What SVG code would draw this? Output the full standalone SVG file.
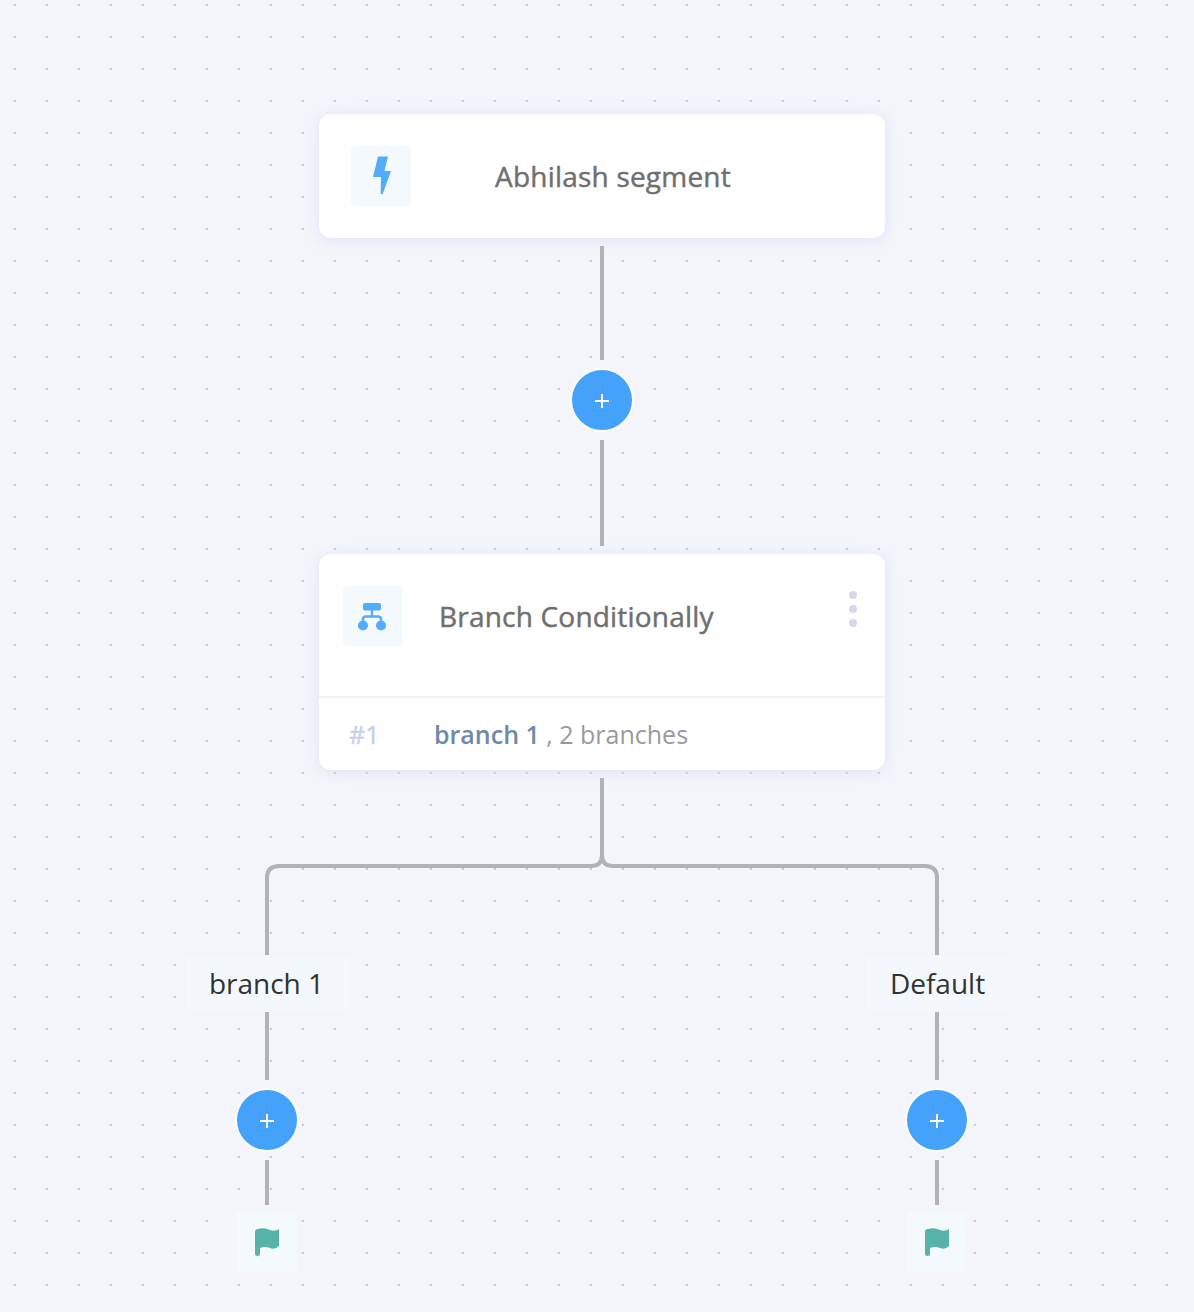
<svg xmlns="http://www.w3.org/2000/svg" width="1194" height="1312" viewBox="0 0 1194 1312">
<style>
text{font-family:"Open Sans","Noto Sans","Liberation Sans",sans-serif}
.title{font-size:28px;fill:#6f6f6f;stroke:#6f6f6f;stroke-width:.45px;letter-spacing:.2px}
.conn{fill:none;stroke:#b1b1b6;stroke-width:4}
.card{fill:#fff;filter:url(#sh)}
.tile{fill:#f4f9fe}
.btn{fill:#45a2fa;stroke:#fff;stroke-width:2}
.plus{stroke:#fff;stroke-width:2;fill:none}
.lab{fill:#f4f8fc}
.labt{font-size:28px;fill:#2f3336;text-anchor:middle}
.ico{fill:#52adf8}
.flag{fill:#55b4a6}
</style>
<defs>
<pattern id="dots" x="0" y="0" width="32" height="32" patternUnits="userSpaceOnUse">
<rect x="14" y="4" width="1.700" height="1.700" fill="#b6b6ba"/>
</pattern>
<filter id="sh" x="-10%" y="-30%" width="120%" height="160%">
<feDropShadow dx="0" dy="2" stdDeviation="7" flood-color="#c9d3ee" flood-opacity="0.55"/>
</filter>
</defs>
<rect width="1194" height="1312" fill="#f3f5fb"/>
<rect width="1194" height="1312" fill="url(#dots)"/>
<g id="connectors">
<path class="conn" d="M602 246V360M602 440V546M602 778V855Q602 866 591 866H279Q267 866 267 878V955M602 855Q602 866 613 866H925Q937 866 937 878V955M267 1012V1080M267 1160V1205M937 1012V1080M937 1160V1205"/>
</g>
<g id="node-segment">
<rect class="card" x="319" y="114" width="566" height="124" rx="12"/>
<rect class="tile" x="351" y="146" width="60" height="60" rx="4"/>
<path class="ico" d="M378 156.500H388L384.500 171H391L382.700 194H380.700L381 177H373Z"/>
<text class="title" x="613" y="187" text-anchor="middle">Abhilash segment</text>
</g>
<g id="add-1">
<circle class="btn" cx="602" cy="400" r="31"/>
<path class="plus" d="M595 401H609M602 394V408"/>
</g>
<g id="node-branch">
<rect class="card" x="319" y="554" width="566" height="216" rx="12"/>
<rect class="tile" x="343" y="586" width="60" height="60" rx="4"/>
<rect class="ico" x="363" y="603" width="18" height="7.500" rx="2"/>
<path d="M372 610V616M363 625V619Q363 616.500 366 616.500H378Q381 616.500 381 619V625" fill="none" stroke="#52adf8" stroke-width="2.400"/>
<circle class="ico" cx="363" cy="625.500" r="5"/>
<circle class="ico" cx="381" cy="625.500" r="5"/>
<text class="title" x="439" y="627">Branch Conditionally</text>
<circle cx="853" cy="595" r="4" fill="#d6d6ee"/>
<circle cx="853" cy="609" r="4" fill="#d6d6ee"/>
<circle cx="853" cy="623" r="4" fill="#d6d6ee"/>
<rect x="319" y="696" width="566" height="2" fill="#eff1f7"/>
<text x="349" y="744" font-size="25" fill="#c3d2ea" stroke="#c3d2ea" stroke-width=".4">#1</text>
<text x="434" y="744" font-size="25"><tspan fill="#6e8aa8" font-weight="600">branch 1</tspan><tspan fill="#9a9a9e"> , 2 branches</tspan></text>
</g>
<g id="label-branch-1">
<rect class="lab" x="186" y="956" width="163" height="54"/>
<text class="labt" x="266.500" y="994">branch 1</text>
</g>
<g id="label-default">
<rect class="lab" x="866" y="956" width="143" height="54"/>
<text class="labt" x="937.500" y="994">Default</text>
</g>
<g id="add-2">
<circle class="btn" cx="267" cy="1120" r="31"/>
<path class="plus" d="M260 1121H274M267 1114V1128"/>
</g>
<g id="add-3">
<circle class="btn" cx="937" cy="1120" r="31"/>
<path class="plus" d="M930 1121H944M937 1114V1128"/>
</g>
<g id="end-1">
<rect class="tile" x="237" y="1212" width="60" height="60"/>
<path class="flag" d="M255 1232Q255 1229 258 1229Q264 1227 270 1230Q275 1232 279 1229V1246Q275 1250 270 1248Q265 1246 260 1248V1254Q260 1256 257.500 1256Q255 1256 255 1254Z"/>
</g>
<g id="end-2">
<rect class="tile" x="907" y="1212" width="60" height="60"/>
<path class="flag" d="M925 1232Q925 1229 928 1229Q934 1227 940 1230Q945 1232 949 1229V1246Q945 1250 940 1248Q935 1246 930 1248V1254Q930 1256 927.500 1256Q925 1256 925 1254Z"/>
</g>
</svg>
